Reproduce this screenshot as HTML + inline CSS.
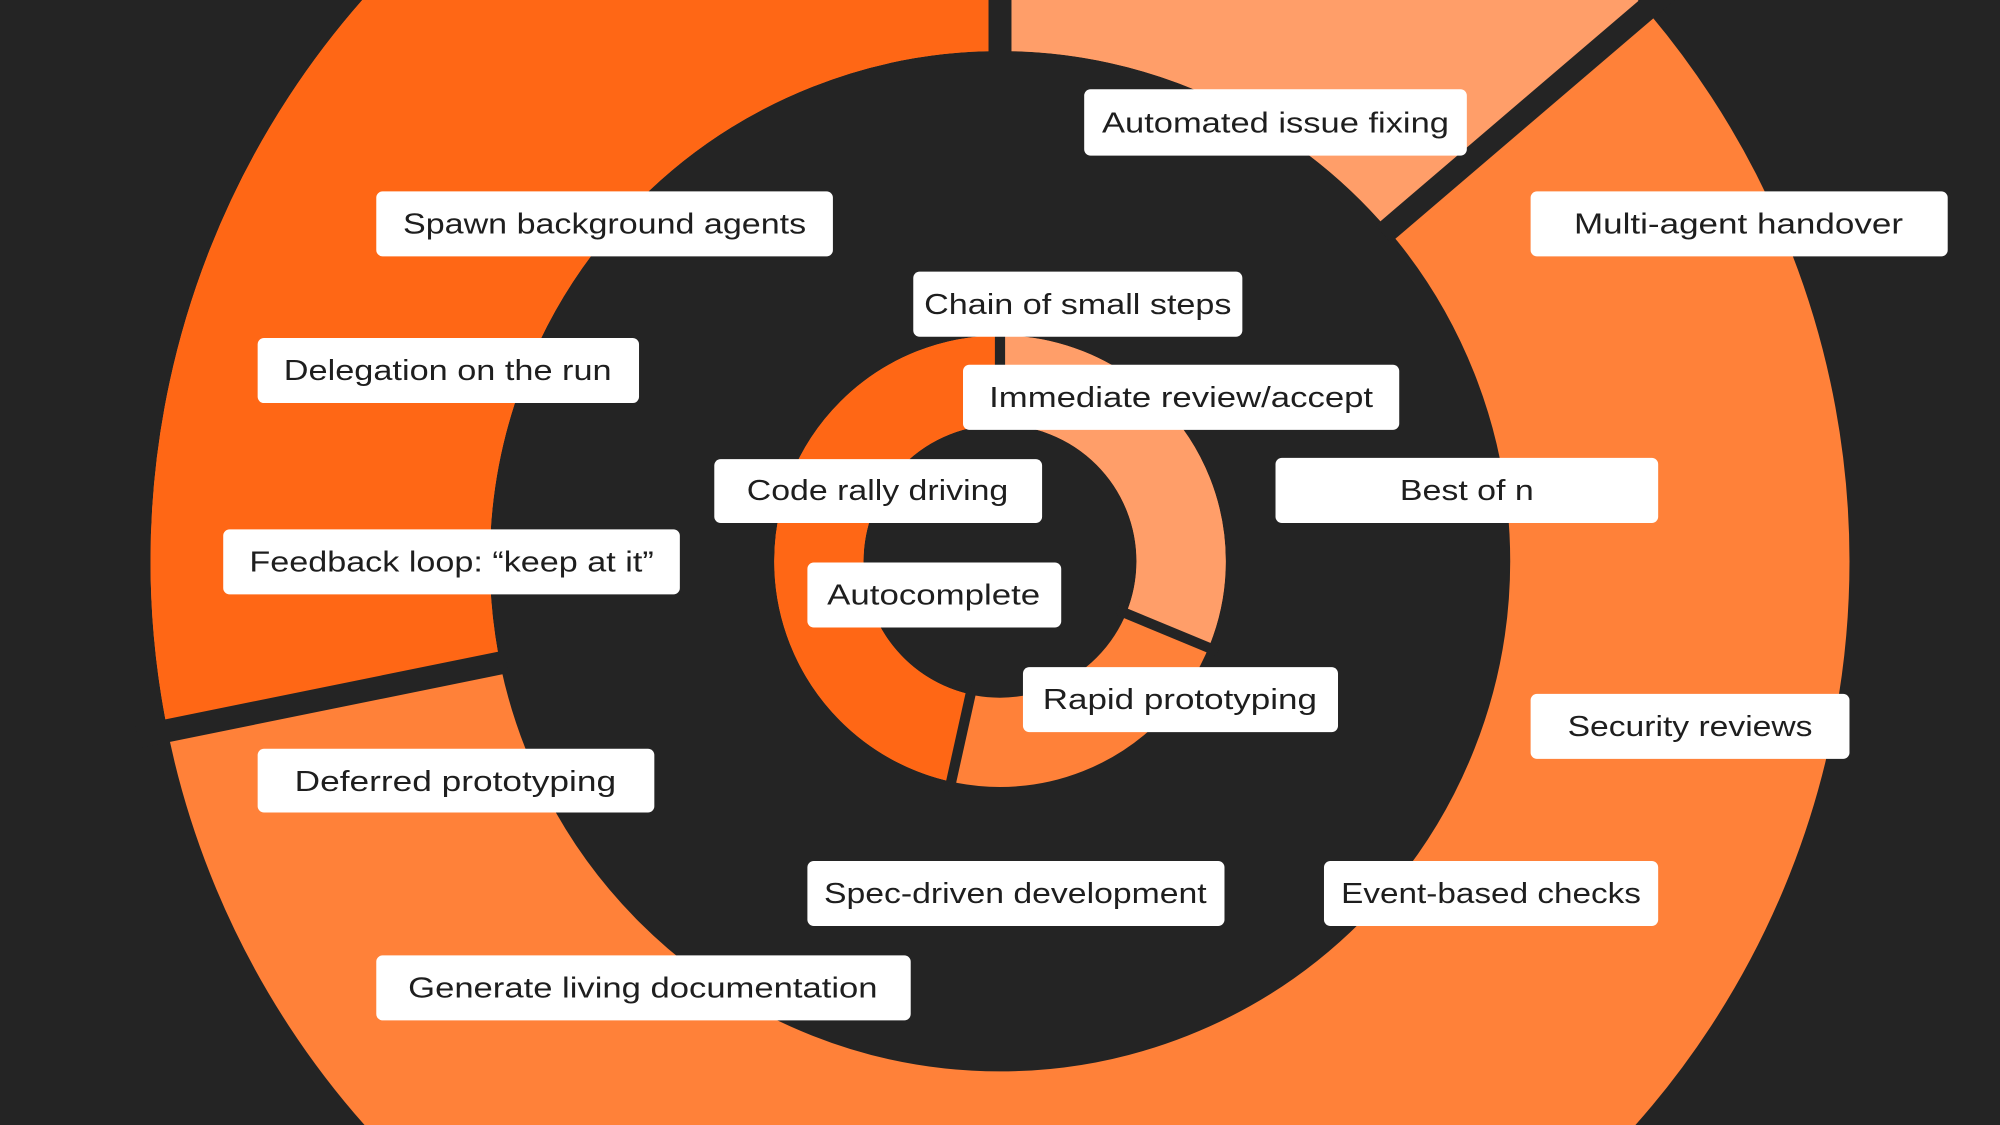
<!DOCTYPE html>
<html><head><meta charset="utf-8"><style>
html,body{margin:0;padding:0;background:#242424;width:2000px;height:1125px;overflow:hidden;}
svg{display:block;}
text{font-family:"Liberation Sans",sans-serif;font-size:22.5px;fill:#1e1e1e;}
</style></head><body>
<svg width="2000" height="1125" viewBox="0 0 1568 882" xmlns="http://www.w3.org/2000/svg">
<rect width="1568" height="882" fill="#242424"/>
<g transform="rotate(-90 784 440)" fill="none">
<circle cx="784" cy="440" r="533" stroke="#FF8139" stroke-width="266"/>
<circle cx="784" cy="440" r="533" stroke="#FF6715" stroke-width="266" stroke-dasharray="944 9999" stroke-dashoffset="-2405"/>
<circle cx="784" cy="440" r="533" stroke="#FF9E69" stroke-width="266" stroke-dasharray="461 9999" stroke-dashoffset="0"/>
<circle cx="784" cy="440" r="142" stroke="#FF8139" stroke-width="70"/>
<circle cx="784" cy="440" r="142" stroke="#FF6715" stroke-width="70" stroke-dasharray="416 9999" stroke-dashoffset="-477"/>
<circle cx="784" cy="440" r="142" stroke="#FF9E69" stroke-width="70" stroke-dasharray="279 9999" stroke-dashoffset="0"/>
</g>
<g stroke="#242424" stroke-width="18">
<line x1="784" y1="45" x2="784" y2="-250"/>
<line x1="1084.4" y1="183.5" x2="1308.7" y2="-8.1"/>
<line x1="397" y1="518.8" x2="107.9" y2="577.6"/>
</g>
<g stroke="#242424" stroke-width="8">
<line x1="784" y1="340" x2="784" y2="255"/>
<line x1="876.4" y1="478.3" x2="954.9" y2="510.8"/>
<line x1="762.4" y1="537.6" x2="744" y2="620.6"/>
</g>
<g fill="#fff">
<rect x="850" y="70" width="300" height="52" rx="5"/>
<rect x="295" y="150" width="358" height="51" rx="5"/>
<rect x="1200" y="150" width="327" height="51" rx="5"/>
<rect x="716" y="213" width="258" height="51" rx="5"/>
<rect x="202" y="265" width="299" height="51" rx="5"/>
<rect x="755" y="286" width="342" height="51" rx="5"/>
<rect x="560" y="360" width="257" height="50" rx="5"/>
<rect x="1000" y="359" width="300" height="51" rx="5"/>
<rect x="175" y="415" width="358" height="51" rx="5"/>
<rect x="633" y="441" width="199" height="51" rx="5"/>
<rect x="802" y="523" width="247" height="51" rx="5"/>
<rect x="1200" y="544" width="250" height="51" rx="5"/>
<rect x="202" y="587" width="311" height="50" rx="5"/>
<rect x="633" y="675" width="327" height="51" rx="5"/>
<rect x="1038" y="675" width="262" height="51" rx="5"/>
<rect x="295" y="749" width="419" height="51" rx="5"/>
</g>
<g text-anchor="middle">
<text x="1000" y="104" textLength="272" lengthAdjust="spacingAndGlyphs">Automated issue fixing</text>
<text x="474" y="183" textLength="316" lengthAdjust="spacingAndGlyphs">Spawn background agents</text>
<text x="1363" y="183" textLength="258" lengthAdjust="spacingAndGlyphs">Multi-agent handover</text>
<text x="845" y="246" textLength="241" lengthAdjust="spacingAndGlyphs">Chain of small steps</text>
<text x="351" y="298" textLength="257" lengthAdjust="spacingAndGlyphs">Delegation on the run</text>
<text x="926" y="319" textLength="301" lengthAdjust="spacingAndGlyphs">Immediate review/accept</text>
<text x="688" y="392" textLength="205" lengthAdjust="spacingAndGlyphs">Code rally driving</text>
<text x="1150" y="392" textLength="105" lengthAdjust="spacingAndGlyphs">Best of n</text>
<text x="354" y="448" textLength="317" lengthAdjust="spacingAndGlyphs">Feedback loop: “keep at it”</text>
<text x="732" y="474" textLength="167" lengthAdjust="spacingAndGlyphs">Autocomplete</text>
<text x="925" y="556" textLength="215" lengthAdjust="spacingAndGlyphs">Rapid prototyping</text>
<text x="1325" y="577" textLength="192" lengthAdjust="spacingAndGlyphs">Security reviews</text>
<text x="357" y="620" textLength="252" lengthAdjust="spacingAndGlyphs">Deferred prototyping</text>
<text x="796" y="708" textLength="300" lengthAdjust="spacingAndGlyphs">Spec-driven development</text>
<text x="1169" y="708" textLength="235" lengthAdjust="spacingAndGlyphs">Event-based checks</text>
<text x="504" y="782" textLength="368" lengthAdjust="spacingAndGlyphs">Generate living documentation</text>
</g>
</svg>
</body></html>
